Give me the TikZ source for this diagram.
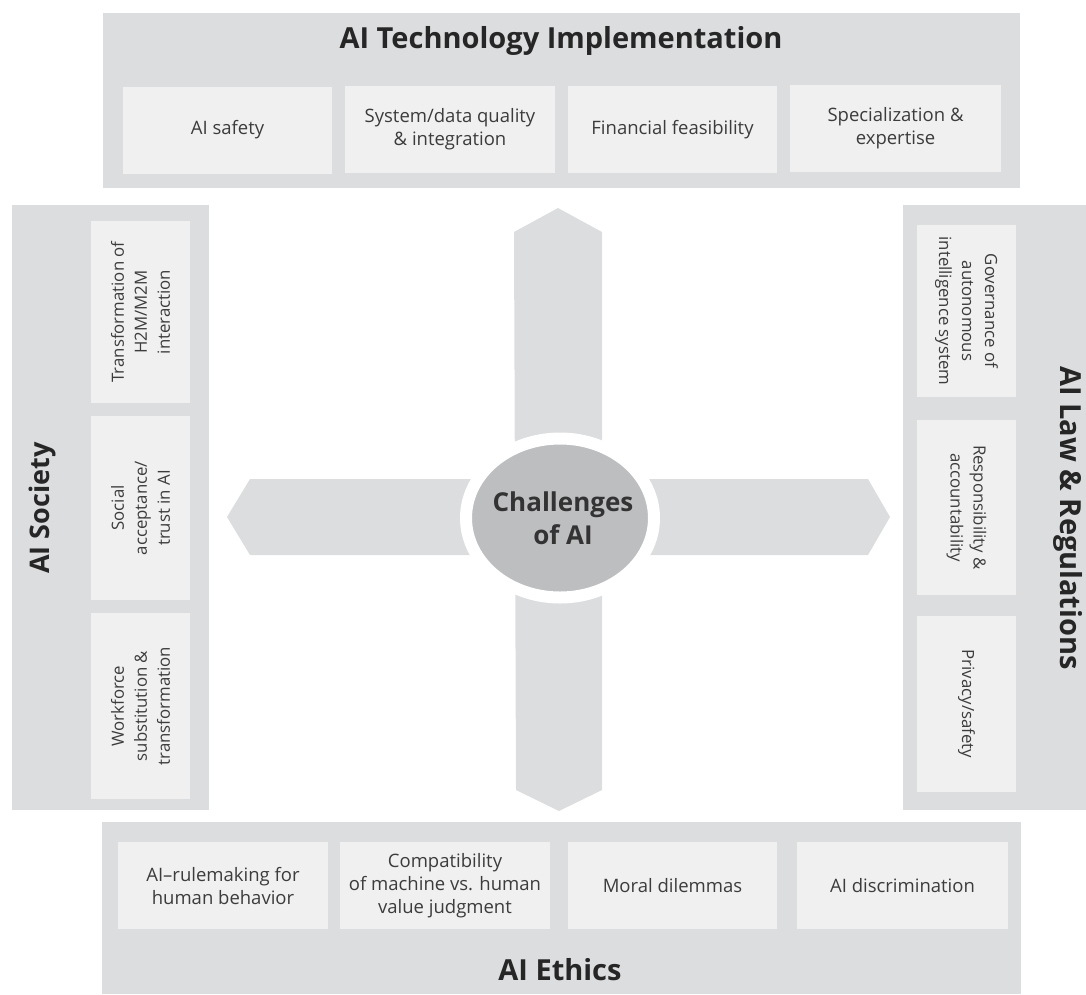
\documentclass[tikz,border=0pt]{standalone}
\usepackage{fontspec}
\usetikzlibrary{shapes.geometric}
\setmainfont{Open Sans}
\definecolor{panelgray}{RGB}{220,221,223}
\definecolor{boxgray}{RGB}{240,240,240}
\definecolor{circgray}{RGB}{189,190,192}
\definecolor{txt}{RGB}{60,60,60}
\tikzset{
  panel/.style={fill=panelgray, draw=none, inner sep=0pt},
  item/.style={fill=boxgray, draw=none, inner sep=2pt, align=center, text=txt,
    font=\fontsize{18.5}{23}\selectfont},
  sitem/.style={item, font=\fontsize{16.8}{23}\selectfont},
  ptitle/.style={text=black!85, font=\fontsize{29}{33}\selectfont\bfseries, inner sep=0pt},
  stitle/.style={text=black!85, font=\fontsize{27}{31}\selectfont\bfseries, inner sep=0pt},
  arrowshape/.style={fill=panelgray, draw=none},
}
\begin{document}
\begin{tikzpicture}[x=1pt,y=-1pt]
\useasboundingbox (0,0) rectangle (1086,994);
% panels
\node[panel, minimum width=917pt, minimum height=175pt] (toppanel) at (561.5,100.5) {};
\node[panel, minimum width=197pt, minimum height=605pt] (leftpanel) at (110.5,507.5) {};
\node[panel, minimum width=183pt, minimum height=605pt] (rightpanel) at (994.5,507.5) {};
\node[panel, minimum width=919pt, minimum height=172pt] (botpanel) at (561.5,908) {};
% titles
\node[ptitle] (ttop) at (561,41) {AI Technology Implementation};
\node[stitle, rotate=90] (tleft) at (42,508) {AI Society};
\node[stitle, rotate=-90, font=\fontsize{29}{33}\selectfont\bfseries] (tright) at (1068,518) {AI Law \& Regulations};
\node[ptitle] (tbot) at (560,970) {AI Ethics};
% top items
\node[item, minimum width=209pt, minimum height=87pt] (t1) at (227.5,130) {AI safety};
\node[item, minimum width=210pt, minimum height=87pt] (t2) at (450,129.5) {System/data quality\\\& integration};
\node[item, minimum width=209pt, minimum height=87pt] (t3) at (672.5,129.5) {Financial feasibility};
\node[item, minimum width=211pt, minimum height=87pt] (t4) at (895.5,128.5) {Specialization \&\\expertise};
% left items
\node[sitem, rotate=90, minimum width=182pt, minimum height=99pt] (l1) at (140.5,312) {Transformation of\\H2M/M2M\\interaction};
\node[sitem, rotate=90, minimum width=184pt, minimum height=99pt] (l2) at (140.5,508) {Social\\acceptance/\\trust in AI};
\node[sitem, rotate=90, minimum width=186pt, minimum height=99pt] (l3) at (140.5,706) {Workforce\\substitution \&\\transformation};
% right items
\node[sitem, rotate=-90, minimum width=172pt, minimum height=99pt] (r1) at (966.5,311) {Governance of\\autonomous\\intelligence system};
\node[sitem, rotate=-90, minimum width=175pt, minimum height=99pt] (r2) at (966.5,507.5) {Responsibility \&\\accountability};
\node[sitem, rotate=-90, minimum width=176pt, minimum height=99pt] (r3) at (966.5,704) {Privacy/safety};
% bottom items
\node[item, minimum width=210pt, minimum height=87pt] (b1) at (223,885.5) {AI–rulemaking for\\human behavior};
\node[item, minimum width=210pt, minimum height=87pt] (b2) at (445,885.5) {Compatibility\\of machine vs. human\\value judgment};
\node[item, minimum width=209pt, minimum height=87pt] (b3) at (672.5,885.5) {Moral dilemmas};
\node[item, minimum width=211pt, minimum height=87pt] (b4) at (902.5,885.5) {AI discrimination};
% arrows
\fill[arrowshape] (558,208) -- (602,232) -- (602,790) -- (559,811) -- (516,790) -- (514,232) -- cycle;
\fill[arrowshape] (227,517) -- (250,479) -- (868,479) -- (890,517) -- (868,555) -- (250,555) -- cycle;
% center
\node[ellipse, minimum width=188pt, minimum height=159pt, fill=circgray, draw=white, line width=12pt, inner sep=0pt] (center) at (560,518) {};
\node[text=black!80, align=center, font=\fontsize{26}{33}\selectfont\bfseries] (ctext) at (563,518) {Challenges\\of AI};
\end{tikzpicture}
\end{document}
